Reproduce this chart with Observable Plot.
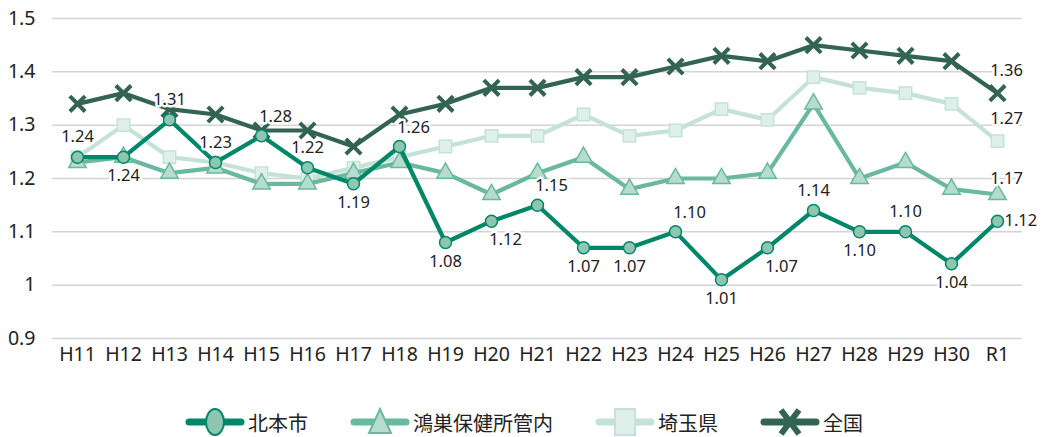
<!DOCTYPE html>
<html>
<head>
<meta charset="utf-8">
<script src="https://cdn.jsdelivr.net/npm/d3@7"></script>
<script src="https://cdn.jsdelivr.net/npm/@observablehq/plot@0.6"></script>
<style>
  html, body { margin: 0; padding: 0; background: #fff; }
  body { width: 1048px; height: 437px; position: relative; overflow: hidden;
         font-family: 'Noto Sans', 'Noto Sans CJK JP', sans-serif; }
  #chart { position: absolute; left: 0; top: 0; }
  #legend { position: absolute; left: 0; top: 407px; width: 1048px; height: 30px;
            display: flex; justify-content: center; align-items: center; gap: 0; }
  .item { display: flex; align-items: center; margin: 0 21px; font-size: 20px; color: #222;
          font-family: 'Noto Sans CJK JP', sans-serif; }
  .item svg { margin-right: 3px; }
</style>
</head>
<body>
<div id="chart"></div>
<div id="legend"></div>
<script>
// ---- data ----
const years = ["H11","H12","H13","H14","H15","H16","H17","H18","H19","H20","H21","H22","H23","H24","H25","H26","H27","H28","H29","H30","R1"];
const seriesNames = ["北本市","鴻巣保健所管内","埼玉県","全国"];
const kitamoto = [1.24,1.24,1.31,1.23,1.28,1.22,1.19,1.26,1.08,1.12,1.15,1.07,1.07,1.10,1.01,1.07,1.14,1.10,1.10,1.04,1.12];
const konosu   = [1.23,1.24,1.21,1.22,1.19,1.19,1.21,1.23,1.21,1.17,1.21,1.24,1.18,1.20,1.20,1.21,1.34,1.20,1.23,1.18,1.17];
const saitama  = [1.24,1.30,1.24,1.23,1.21,1.20,1.22,1.24,1.26,1.28,1.28,1.32,1.28,1.29,1.33,1.31,1.39,1.37,1.36,1.34,1.27];
const zenkoku  = [1.34,1.36,1.33,1.32,1.29,1.29,1.26,1.32,1.34,1.37,1.37,1.39,1.39,1.41,1.43,1.42,1.45,1.44,1.43,1.42,1.36];
const yTicks = [0.9,1.0,1.1,1.2,1.3,1.4,1.5];
// label placement for 北本市 (t = above, b = below, tr/br = shifted right, r = right)
const kitamotoLabelPlace = ["t","b","t","t","tr","t","b","tr","b","br","tr","b","b","tr","b","br","t","b","t","b","r"];

// ---- styles ----
const styles = {
  "北本市":        {line: "#00876a", fill: "#8fc6b0", symbol: "circle",   r: 6},
  "鴻巣保健所管内": {line: "#6ab89e", fill: "#b6dccd", symbol: "triangle", r: 6.5},
  "埼玉県":        {line: "#c5e2d7", fill: "#dff0ea", symbol: "square",   r: 7},
  "全国":          {line: "#336352", fill: "none",    symbol: "times",    r: 7}
};
const valuesBySeries = {"北本市": kitamoto, "鴻巣保健所管内": konosu, "埼玉県": saitama, "全国": zenkoku};
const drawOrder = ["埼玉県","鴻巣保健所管内","全国","北本市"];

const table = s => years.map((y, i) => ({year: y, value: valuesBySeries[s][i], series: s, i}));

const offsets = {
  t:  {dx: 0,  dy: -20, anchor: "middle"},
  b:  {dx: 0,  dy: 19,  anchor: "middle"},
  tr: {dx: 14, dy: -19, anchor: "middle"},
  br: {dx: 14, dy: 19,  anchor: "middle"},
  r:  {dx: 7,  dy: 0,   anchor: "start"}
};

const marks = [
  Plot.gridY(yTicks, {stroke: "#d4d4d4", strokeOpacity: 1, strokeWidth: 1.5})
];
for (const s of drawOrder) {
  const st = styles[s];
  const data = table(s);
  marks.push(Plot.line(data, {x: "year", y: "value", stroke: st.line, strokeWidth: 4.2, strokeLinejoin: "round"}));
  if (st.symbol === "times") {
    marks.push(Plot.dot(data, {x: "year", y: "value", symbol: "times", r: st.r, stroke: st.line, strokeWidth: 4}));
  } else {
    marks.push(Plot.dot(data, {x: "year", y: "value", symbol: st.symbol, r: st.r, fill: st.fill, stroke: st.line, strokeWidth: 1.5}));
  }
}
// labels
const textOpts = {fontSize: 16.5, fill: "#222", stroke: "white", strokeWidth: 5, paintOrder: "stroke"};
for (const key of Object.keys(offsets)) {
  const o = offsets[key];
  const d = table("北本市").filter(p => kitamotoLabelPlace[p.i] === key);
  marks.push(Plot.text(d, {x: "year", y: "value", text: p => p.value.toFixed(2), dx: o.dx, dy: o.dy, textAnchor: o.anchor, ...textOpts}));
}
// R1 end labels for the other series
for (const s of ["鴻巣保健所管内","埼玉県","全国"]) {
  const d = table(s).filter(p => p.year === "R1");
  marks.push(Plot.text(d, {x: "year", y: "value", text: p => p.value.toFixed(2), dx: 9, dy: s === "鴻巣保健所管内" ? -16 : -22, ...textOpts}));
}
marks.push(Plot.axisX({tickSize: 0, tickPadding: 9, fontSize: 19.5}));
marks.push(Plot.axisY(yTicks, {tickSize: 0, tickPadding: 17, fontSize: 19.5, tickFormat: d => String(+d.toFixed(1))}));

const chart = Plot.plot({
  width: 1048,
  height: 380,
  marginLeft: 52,
  marginRight: 26,
  marginTop: 18,
  marginBottom: 42,
  x: {domain: years, type: "point", padding: 0.5, label: null},
  y: {domain: [0.9, 1.5], label: null},
  style: {fontFamily: "'Noto Sans', 'Noto Sans CJK JP', sans-serif", fontSize: "19px", color: "#222", background: "white"},
  marks
});
document.getElementById("chart").appendChild(chart);

// legend
const legend = d3.select("#legend");
for (const s of seriesNames) {
  const st = styles[s];
  const item = legend.append("div").attr("class", "item");
  const svg = item.append("svg").attr("width", 60).attr("height", 30);
  svg.append("line").attr("x1", 4).attr("x2", 56).attr("y1", 15).attr("y2", 15)
    .attr("stroke", st.line).attr("stroke-width", 7).attr("stroke-linecap", "round");
  const g = svg.append("g").attr("transform", "translate(30,15)");
  if (st.symbol === "circle") {
    g.append("ellipse").attr("rx", 9).attr("ry", 13).attr("fill", st.fill).attr("stroke", st.line).attr("stroke-width", 2);
  } else if (st.symbol === "triangle") {
    g.append("path").attr("d", "M0,-13L11,11L-11,11Z").attr("fill", st.fill).attr("stroke", st.line).attr("stroke-width", 2);
  } else if (st.symbol === "square") {
    g.append("rect").attr("x", -10).attr("y", -13).attr("width", 20).attr("height", 26).attr("fill", st.fill).attr("stroke", st.line).attr("stroke-width", 2);
  } else {
    g.append("path").attr("d", "M-9,-12L9,12M9,-12L-9,12").attr("stroke", st.line).attr("stroke-width", 6);
  }
  item.append("span").text(s);
}
</script>
</body>
</html>
